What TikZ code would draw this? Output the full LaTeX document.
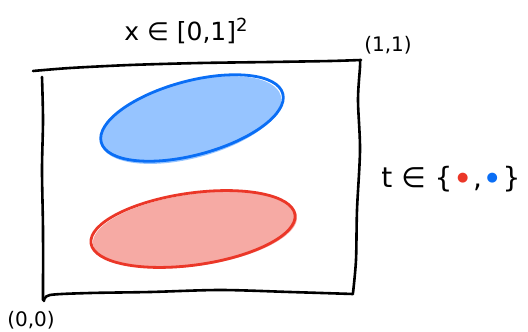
\documentclass[tikz,border=0pt]{standalone}
\usepackage{fontspec}
\setmainfont{DejaVu Sans}
\definecolor{bstroke}{RGB}{10,110,245}
\definecolor{bfill}{RGB}{150,196,255}
\definecolor{rstroke}{RGB}{235,55,40}
\definecolor{rfill}{RGB}{246,170,164}
\begin{document}
\begin{tikzpicture}[x=1pt,y=-1pt,
  pen/.style={line width=2.6pt, line cap=round, line join=round, black},
  blob/.style={line width=2.8pt},
  label/.style={inner sep=0pt, anchor=center}]
\useasboundingbox (0,0) rectangle (528,332);
% frame
\draw[pen] plot[smooth] coordinates {(33,71) (70,68) (130,65) (200,63) (270,62) (330,61) (361,60)};
\draw[pen] plot[smooth] coordinates {(42,77) (43,120) (42,170) (43,230) (43,300)};
\draw[pen] plot[smooth] coordinates {(44,301) (50,295) (90,293) (150,292) (220,290) (290,292) (353,294)};
\draw[pen] plot[smooth] coordinates {(360,61) (360,67) (358,100) (360,150) (357,210) (356,260) (353,293)};
% blue ellipse
\fill[bfill, rotate around={15:(191,120)}] (191,120) ellipse [x radius=93, y radius=38];
\draw[blob, bstroke, rotate around={15:(192,118)}] (192,118) ellipse [x radius=94, y radius=37];
% red ellipse
\fill[rfill, rotate around={8:(195,230)}] (195,230) ellipse [x radius=103, y radius=36];
\draw[blob, rstroke, rotate around={8:(193,229)}] (193,229) ellipse [x radius=103, y radius=36];
% labels
\node[label, font=\fontsize{25}{27}\selectfont] (title) at (186,31) {x ∈ [0,1]\raisebox{9pt}{\fontsize{18}{19}\selectfont 2}};
\node[label, font=\fontsize{20}{22}\selectfont] (one) at (388,45) {(1,1)};
\node[label, font=\fontsize{20}{22}\selectfont] (zero) at (31,320) {(0,0)};
\node[label, font=\fontsize{28}{30}\selectfont] (tset) at (451,179) {t ∈ \{\,\raisebox{6pt}{\fontsize{13}{13}\selectfont\color{rstroke}●}\,,\,\raisebox{6pt}{\fontsize{13}{13}\selectfont\color{bstroke}●}\,\}};
\end{tikzpicture}
\end{document}
